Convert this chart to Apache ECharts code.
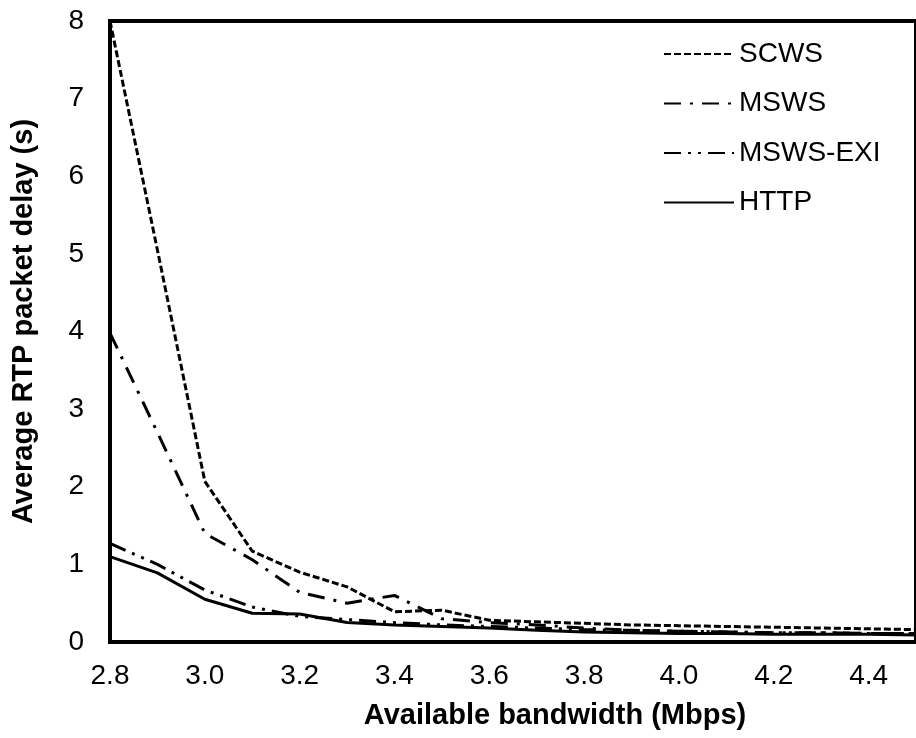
<!DOCTYPE html>
<html>
<head>
<meta charset="utf-8">
<script src="https://cdn.jsdelivr.net/npm/echarts@6/dist/echarts.min.js"></script>
<style>
html,body{margin:0;padding:0;background:#fff;}
#chart{width:916px;height:738px;}
</style>
</head>
<body>
<div id="chart"></div>
<script>
// Data
const bandwidth = [2.8, 2.9, 3.0, 3.1, 3.2, 3.3, 3.4, 3.5, 3.6, 3.7, 3.8, 3.9, 4.0, 4.1, 4.2, 4.3, 4.4, 4.5];
const scws     = [8.0, 5.05, 2.07, 1.17, 0.90, 0.71, 0.39, 0.41, 0.28, 0.26, 0.24, 0.22, 0.21, 0.20, 0.19, 0.18, 0.17, 0.16];
const msws     = [3.98, 2.70, 1.40, 1.06, 0.64, 0.50, 0.60, 0.30, 0.25, 0.22, 0.18, 0.15, 0.14, 0.13, 0.12, 0.12, 0.11, 0.11];
const mswsExi  = [1.27, 1.00, 0.67, 0.45, 0.33, 0.29, 0.25, 0.22, 0.20, 0.18, 0.16, 0.15, 0.14, 0.13, 0.12, 0.12, 0.11, 0.11];
const http     = [1.10, 0.89, 0.55, 0.37, 0.36, 0.25, 0.22, 0.20, 0.18, 0.15, 0.13, 0.12, 0.11, 0.11, 0.10, 0.10, 0.10, 0.09];
const seriesNames = ['SCWS', 'MSWS', 'MSWS-EXI', 'HTTP'];
const xTitle = 'Available bandwidth (Mbps)';
const yTitle = 'Average RTP packet delay (s)';

const FONT = 'Arial, "Liberation Sans", sans-serif';
const pairs = arr => bandwidth.map((x, i) => [x, arr[i]]);

function lineSeries(name, data, type) {
  return {
    name: name,
    type: 'line',
    data: pairs(data),
    symbol: 'none',
    smooth: false,
    clip: true,
    lineStyle: { color: '#000', width: 3, type: type },
    itemStyle: { color: '#000' },
    emphasis: { disabled: true }
  };
}

const chart = echarts.init(document.getElementById('chart'), null, { renderer: 'canvas' });
chart.setOption({
  animation: false,
  backgroundColor: '#fff',
  textStyle: { fontFamily: FONT, color: '#000' },
  grid: {
    left: 110, right: -10, top: 21, bottom: 96,
    show: true, borderColor: '#000', borderWidth: 4, backgroundColor: 'transparent',
    containLabel: false
  },
  legend: {
    orient: 'vertical',
    left: 663, top: 40,
    padding: 0,
    itemWidth: 70, itemHeight: 28, itemGap: 21.5,
    itemStyle: { opacity: 0, borderWidth: 0 },
    textStyle: { fontFamily: FONT, fontSize: 28, color: '#000' },
    data: seriesNames
  },
  xAxis: {
    type: 'value',
    min: 2.8, max: 4.5, interval: 0.2,
    name: xTitle,
    nameLocation: 'middle',
    nameGap: 59,
    nameTextStyle: { fontFamily: FONT, fontSize: 29, fontWeight: 'bold', color: '#000', padding: [0, 0, 0, 84] },
    axisLine: { show: true, lineStyle: { color: '#000', width: 4 } },
    axisTick: { show: false },
    splitLine: { show: false },
    axisLabel: {
      fontFamily: FONT, fontSize: 28, color: '#000', margin: 20,
      showMaxLabel: false,
      formatter: v => v.toFixed(1)
    }
  },
  yAxis: {
    type: 'value',
    min: 0, max: 8, interval: 1,
    name: yTitle,
    nameLocation: 'middle',
    nameGap: 72,
    nameTextStyle: { fontFamily: FONT, fontSize: 29, fontWeight: 'bold', color: '#000', padding: [0, 0, 0, 20] },
    axisLine: { show: true, lineStyle: { color: '#000', width: 4 } },
    axisTick: { show: false },
    splitLine: { show: false },
    axisLabel: { fontFamily: FONT, fontSize: 28, color: '#000', margin: 26 }
  },
  series: [
    lineSeries('SCWS', scws, [7, 3]),
    lineSeries('MSWS', msws, [17, 9, 3, 9]),
    lineSeries('MSWS-EXI', mswsExi, [17, 7, 3, 7, 3, 7]),
    lineSeries('HTTP', http, 'solid')
  ]
});
</script>
</body>
</html>
